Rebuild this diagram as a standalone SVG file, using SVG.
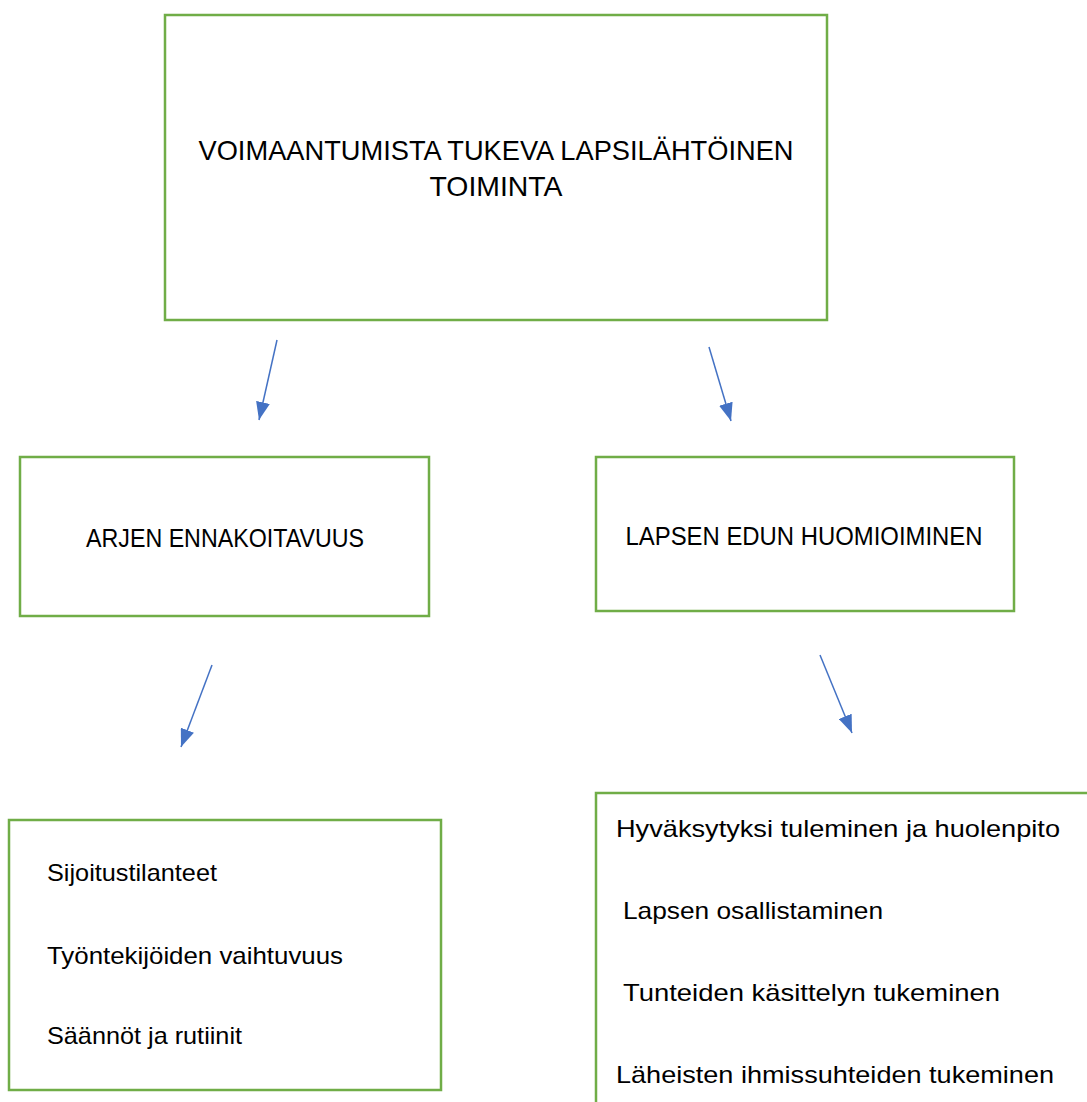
<svg xmlns="http://www.w3.org/2000/svg" width="1087" height="1102" viewBox="0 0 1087 1102">
<style>
.box{fill:#fff;stroke:#70AD47;stroke-width:2.5}
.t{font-family:"Liberation Sans",Arial,sans-serif;fill:#000}
.c{stroke:#4472C4;stroke-width:1.5;fill:none}
</style>
<defs>
<marker id="ah" viewBox="0 0 18 14" refX="18" refY="7" markerWidth="18" markerHeight="14" markerUnits="userSpaceOnUse" orient="auto">
<path d="M0,0 L18,7 L0,14 z" fill="#4472C4"/>
</marker>
</defs>
<rect width="1087" height="1102" fill="#fff"/>
<g id="root">
<rect class="box" x="165" y="15" width="662" height="305"/>
<text class="t" x="496" y="160" font-size="28" text-anchor="middle" textLength="595" lengthAdjust="spacingAndGlyphs">VOIMAANTUMISTA TUKEVA LAPSILÄHTÖINEN</text>
<text class="t" x="496" y="196" font-size="28" text-anchor="middle" textLength="133" lengthAdjust="spacingAndGlyphs">TOIMINTA</text>
</g>
<g id="arjen">
<rect class="box" x="20" y="457" width="409" height="159"/>
<text class="t" x="225" y="547" font-size="25" text-anchor="middle" textLength="278" lengthAdjust="spacingAndGlyphs">ARJEN ENNAKOITAVUUS</text>
</g>
<g id="lapsen">
<rect class="box" x="596" y="457" width="418" height="154"/>
<text class="t" x="804" y="545" font-size="25" text-anchor="middle" textLength="357" lengthAdjust="spacingAndGlyphs">LAPSEN EDUN HUOMIOIMINEN</text>
</g>
<g id="list-left">
<rect class="box" x="9" y="820" width="432" height="270"/>
<text class="t" x="47" y="881" font-size="24" textLength="170" lengthAdjust="spacingAndGlyphs">Sijoitustilanteet</text>
<text class="t" x="47" y="964" font-size="24" textLength="296" lengthAdjust="spacingAndGlyphs">Työntekijöiden vaihtuvuus</text>
<text class="t" x="47" y="1044" font-size="24" textLength="195" lengthAdjust="spacingAndGlyphs">Säännöt ja rutiinit</text>
</g>
<g id="list-right">
<rect class="box" x="596" y="793" width="520" height="340"/>
<text class="t" x="616" y="837" font-size="24" textLength="444" lengthAdjust="spacingAndGlyphs">Hyväksytyksi tuleminen ja huolenpito</text>
<text class="t" x="623" y="919" font-size="24" textLength="260" lengthAdjust="spacingAndGlyphs">Lapsen osallistaminen</text>
<text class="t" x="623" y="1001" font-size="24" textLength="377" lengthAdjust="spacingAndGlyphs">Tunteiden käsittelyn tukeminen</text>
<text class="t" x="616" y="1083" font-size="24" textLength="438" lengthAdjust="spacingAndGlyphs">Läheisten ihmissuhteiden tukeminen</text>
</g>
<g id="connectors">
<line class="c" x1="277" y1="340" x2="259" y2="420" marker-end="url(#ah)"/>
<line class="c" x1="709" y1="347" x2="731" y2="421" marker-end="url(#ah)"/>
<line class="c" x1="212" y1="665" x2="181" y2="747" marker-end="url(#ah)"/>
<line class="c" x1="820" y1="655" x2="852" y2="733" marker-end="url(#ah)"/>
</g>
</svg>
